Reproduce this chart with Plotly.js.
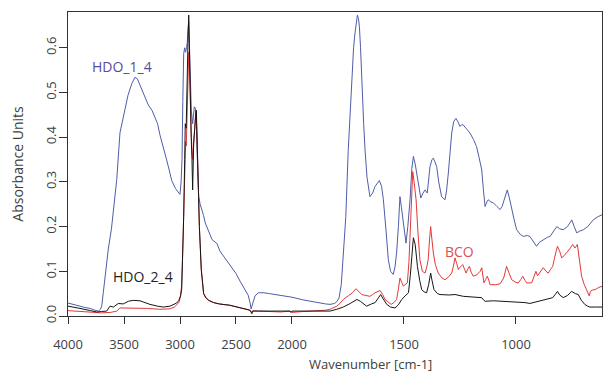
<!DOCTYPE html>
<html><head><meta charset="utf-8">
<script src="https://cdn.plot.ly/plotly-3.0.1.min.js"></script>
<style>html,body{margin:0;padding:0;background:#fff}#c{width:603px;height:373px}</style>
</head><body><div id="c"></div>
<script>
// HDO_1_4 (blue)
const hdo14_w = [4000,3950,3893,3850,3804,3760,3729,3710,3699,3685,3665,3640,3612,3585,3565,3536,3500,3464,3430,3402,3380,3355,3328,3300,3283,3250,3223,3200,3179,3150,3119,3090,3074,3040,3012,3000,2990,2982,2975,2967,2958,2950,2942,2935,2929,2922,2915,2908,2899,2887,2880,2872,2864,2857,2848,2840,2833,2820,2804,2790,2774,2740,2714,2670,2643,2600,2554,2500,2464,2420,2390,2375,2365,2358,2350,2340,2330,2300,2250,2200,2107,2000,1950,1900,1850,1830,1810,1800,1790,1780,1771,1760,1749,1740,1734,1725,1719,1712,1708,1703,1699,1694,1689,1680,1674,1665,1652,1640,1629,1610,1600,1592,1580,1570,1560,1548,1540,1533,1525,1518,1512,1506,1498,1491,1483,1473,1465,1458,1450,1443,1435,1425,1415,1406,1396,1390,1384,1375,1369,1362,1354,1345,1332,1317,1310,1302,1295,1287,1278,1268,1260,1250,1242,1235,1220,1205,1190,1176,1165,1153,1145,1138,1130,1124,1112,1101,1085,1071,1062,1057,1048,1039,1030,1019,1008,997,980,967,950,938,920,908,895,878,860,848,830,818,805,789,770,751,740,729,715,699,680,655,635,613];
const hdo14_a = [0.029,0.025,0.022,0.019,0.017,0.013,0.011,0.015,0.022,0.052,0.10,0.15,0.195,0.26,0.305,0.41,0.455,0.494,0.52,0.534,0.53,0.515,0.498,0.48,0.472,0.46,0.445,0.43,0.405,0.38,0.349,0.32,0.303,0.285,0.275,0.272,0.30,0.35,0.48,0.587,0.60,0.59,0.60,0.612,0.64,0.66,0.60,0.535,0.46,0.43,0.45,0.468,0.465,0.455,0.372,0.30,0.267,0.25,0.238,0.225,0.208,0.185,0.171,0.162,0.145,0.13,0.115,0.095,0.078,0.06,0.046,0.03,0.016,0.022,0.03,0.04,0.045,0.052,0.052,0.05,0.047,0.042,0.036,0.031,0.027,0.026,0.028,0.032,0.04,0.07,0.13,0.22,0.37,0.46,0.52,0.60,0.632,0.665,0.673,0.665,0.647,0.60,0.52,0.43,0.372,0.31,0.267,0.275,0.29,0.303,0.29,0.26,0.19,0.126,0.10,0.093,0.11,0.141,0.20,0.267,0.245,0.223,0.19,0.163,0.20,0.26,0.33,0.357,0.34,0.32,0.29,0.264,0.275,0.282,0.275,0.30,0.334,0.35,0.353,0.345,0.334,0.30,0.267,0.26,0.28,0.32,0.37,0.409,0.435,0.442,0.435,0.424,0.428,0.427,0.418,0.409,0.395,0.379,0.355,0.327,0.28,0.245,0.255,0.26,0.255,0.253,0.245,0.238,0.245,0.253,0.27,0.282,0.265,0.238,0.215,0.193,0.182,0.178,0.18,0.178,0.165,0.156,0.165,0.171,0.176,0.178,0.19,0.20,0.195,0.193,0.20,0.215,0.20,0.186,0.19,0.193,0.20,0.215,0.222,0.227];

// BCO (red)
const bco_w = [4000,3900,3800,3700,3620,3565,3536,3450,3387,3300,3179,3089,3050,3030,3010,2995,2985,2975,2967,2958,2950,2944,2938,2930,2922,2915,2908,2899,2887,2878,2868,2858,2850,2840,2827,2810,2789,2770,2744,2700,2650,2554,2464,2400,2375,2360,2350,2300,2196,2100,2018,2000,1950,1905,1850,1830,1800,1786,1771,1749,1730,1714,1700,1689,1670,1652,1640,1629,1607,1595,1585,1570,1557,1545,1533,1525,1518,1510,1503,1495,1485,1478,1473,1467,1461,1455,1446,1438,1429,1418,1406,1398,1392,1386,1381,1375,1369,1360,1347,1330,1317,1300,1287,1280,1272,1265,1257,1248,1238,1230,1223,1215,1208,1200,1191,1175,1160,1153,1148,1143,1135,1128,1120,1116,1090,1071,1055,1042,1030,1019,1000,990,978,970,960,952,930,918,911,904,896,885,878,866,856,845,836,828,815,805,796,785,774,760,747,737,726,718,707,695,685,676,673,668,660,647,630,613];
const bco_a = [0.012,0.01,0.008,0.007,0.008,0.011,0.018,0.018,0.018,0.017,0.015,0.016,0.02,0.024,0.03,0.045,0.07,0.15,0.23,0.31,0.39,0.38,0.45,0.55,0.59,0.55,0.46,0.40,0.35,0.39,0.43,0.46,0.42,0.31,0.20,0.104,0.05,0.04,0.035,0.03,0.027,0.024,0.018,0.015,0.013,0.008,0.012,0.011,0.01,0.009,0.011,0.008,0.01,0.011,0.013,0.015,0.022,0.028,0.037,0.045,0.052,0.061,0.053,0.048,0.046,0.044,0.048,0.052,0.057,0.048,0.037,0.03,0.026,0.03,0.037,0.06,0.085,0.075,0.067,0.07,0.074,0.12,0.186,0.27,0.323,0.30,0.26,0.19,0.126,0.10,0.096,0.11,0.126,0.17,0.20,0.17,0.141,0.115,0.096,0.085,0.081,0.088,0.096,0.11,0.13,0.118,0.104,0.11,0.115,0.105,0.096,0.105,0.111,0.098,0.089,0.092,0.10,0.108,0.09,0.074,0.082,0.089,0.078,0.07,0.07,0.072,0.085,0.111,0.095,0.081,0.075,0.074,0.082,0.089,0.08,0.074,0.074,0.09,0.10,0.09,0.096,0.103,0.108,0.10,0.096,0.105,0.111,0.13,0.156,0.145,0.13,0.135,0.141,0.15,0.16,0.152,0.16,0.13,0.089,0.07,0.059,0.05,0.045,0.055,0.058,0.059,0.064,0.067];

// HDO_2_4 (black)
const hdo24_w = [4000,3950,3893,3800,3744,3700,3655,3625,3595,3551,3507,3460,3417,3357,3300,3268,3200,3149,3089,3050,3030,3010,2995,2985,2975,2967,2958,2953,2945,2938,2929,2922,2915,2908,2900,2893,2887,2878,2868,2858,2854,2848,2839,2827,2810,2789,2770,2744,2700,2650,2554,2464,2400,2375,2358,2350,2300,2196,2100,2018,2010,2000,1905,1830,1800,1771,1740,1720,1710,1695,1680,1667,1645,1629,1615,1604,1595,1577,1560,1540,1525,1510,1495,1480,1472,1465,1458,1450,1440,1430,1421,1410,1399,1390,1381,1375,1366,1350,1339,1300,1272,1235,1200,1153,1145,1138,1100,1042,1000,960,938,900,878,850,836,825,815,805,789,770,751,735,722,708,693,680,670,640,613];
const hdo24_a = [0.022,0.019,0.017,0.012,0.009,0.01,0.011,0.022,0.02,0.028,0.027,0.033,0.035,0.034,0.029,0.026,0.022,0.02,0.022,0.026,0.029,0.035,0.045,0.06,0.13,0.223,0.35,0.43,0.42,0.535,0.61,0.673,0.56,0.46,0.40,0.35,0.282,0.387,0.43,0.455,0.46,0.40,0.31,0.20,0.104,0.05,0.042,0.035,0.03,0.027,0.024,0.018,0.015,0.013,0.005,0.011,0.011,0.011,0.011,0.011,0.008,0.011,0.011,0.011,0.015,0.02,0.028,0.035,0.037,0.033,0.026,0.022,0.027,0.03,0.04,0.048,0.04,0.026,0.02,0.018,0.025,0.037,0.045,0.052,0.09,0.14,0.175,0.16,0.111,0.08,0.059,0.054,0.052,0.07,0.096,0.08,0.059,0.05,0.048,0.047,0.048,0.044,0.043,0.041,0.036,0.033,0.034,0.033,0.032,0.03,0.028,0.033,0.037,0.039,0.041,0.048,0.055,0.047,0.041,0.046,0.055,0.05,0.048,0.035,0.026,0.022,0.02,0.02,0.02];

const tickLabels = ['4000','3500','3000','2500','2000','1500','1000'];

// OPUS-style axis: 4000-2000 compressed by a factor of 2
function u(w){ return w >= 2000 ? (4000 - w) / 2 : 1000 + (2000 - w); }

const traces = [
  {x: hdo14_w.map(u), y: hdo14_a, name:'HDO_1_4', mode:'lines', line:{color:'#4f5da8', width:1}},
  {x: bco_w.map(u), y: bco_a, name:'BCO', mode:'lines', line:{color:'#e2383a', width:1}},
  {x: hdo24_w.map(u), y: hdo24_a, name:'HDO_2_4', mode:'lines', line:{color:'#151515', width:1}}
];

const F = '"Open Sans", sans-serif';
const font = {family:F, size:13, color:'#404040'};

const layout = {
  width:603, height:373,
  margin:{l:68, r:1, t:12, b:57},
  paper_bgcolor:'#fff', plot_bgcolor:'#fff',
  showlegend:false,
  font: font,
  xaxis:{
    range:[0, 2384], tickvals: tickLabels.map(Number).map(u), ticktext: tickLabels,
    ticks:'outside', ticklen:7, tickcolor:'#333', showgrid:false, zeroline:false,
    ticklabelstandoff:9,
    showline:true, mirror:true, linecolor:'#333', linewidth:1, tickfont:font
  },
  yaxis:{
    range:[0, 0.68], dtick:0.1, tickformat:'.1f', tickangle:-90,
    ticks:'outside', ticklen:8, tickcolor:'#333', showgrid:false, zeroline:false,
    ticklabelstandoff:-2,
    showline:true, mirror:true, linecolor:'#333', linewidth:1, tickfont:font,
    title:{text:'Absorbance Units', font:{family:F, size:14, color:'#404040'}, standoff:14}
  },
  annotations:[
    {xref:'paper', yref:'paper', x:0.566, y:-0.157, yanchor:'middle', showarrow:false,
     text:'Wavenumber [cm-1]', font:{family:F, size:13, color:'#404040'}},
    {x:u(3518), y:0.557, text:'HDO_1_4', showarrow:false, font:{family:F, size:14, color:'#5a4a9c'}},
    {x:u(1254), y:0.144, text:'BCO', showarrow:false, font:{family:F, size:14, color:'#e05050'}},
    {x:u(3330), y:0.088, text:'HDO_2_4', showarrow:false, font:{family:F, size:14, color:'#222'}}
  ]
};

Plotly.newPlot('c', traces, layout, {staticPlot:true, displayModeBar:false});
</script>
</body></html>
